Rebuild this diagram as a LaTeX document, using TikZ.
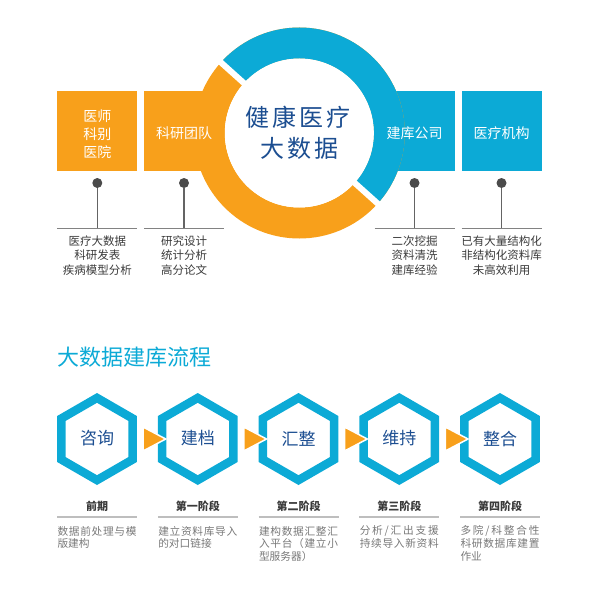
\documentclass[tikz,border=0pt]{standalone}
\usepackage{fontspec}
\newfontfamily\cjk{Noto Sans CJK SC}
\definecolor{orng}{RGB}{248,160,27}
\definecolor{blu}{RGB}{12,170,214}
\definecolor{dblu}{RGB}{28,78,145}
\definecolor{txt}{RGB}{58,58,58}
\definecolor{desc}{RGB}{120,120,120}
\definecolor{dotc}{RGB}{75,75,75}
\definecolor{stemc}{RGB}{100,100,100}
\definecolor{hlc}{RGB}{130,130,130}
\definecolor{sepc}{RGB}{190,190,190}
\def\spreadbox#1#2{\makebox[#1][s]{\spfirst#2\relax}}
\def\spfirst#1{#1\sprest}
\def\sprest#1{\ifx\relax#1\else\hfil#1\expandafter\sprest\fi}
\newcommand\hexring[1]{%
  \begin{scope}[shift={(#1,439)}]
    \fill[blu, even odd rule] (30:46) -- (90:46) -- (150:46) -- (210:46) -- (270:46) -- (330:46) -- cycle
      (30:36.2) -- (90:36.2) -- (150:36.2) -- (210:36.2) -- (270:36.2) -- (330:36.2) -- cycle;
  \end{scope}}
\newcommand\flowarrow[1]{%
  \begin{scope}[shift={(#1,439)}]
    \filldraw[fill=orng, draw=white, line width=1.5pt, line join=miter] (46,-12) -- (68.75,0) -- (46,12) -- cycle;
  \end{scope}}
\tikzset{
  every node/.style={inner sep=0pt, outer sep=0pt},
  boxo/.style={fill=orng, minimum width=80pt, minimum height=80pt},
  boxb/.style={fill=blu, minimum width=80pt, minimum height=80pt},
  boxtext/.style={text=white, align=center, font=\cjk\fontsize{14}{18}\selectfont},
  dotn/.style={circle, fill=dotc, minimum size=10pt},
  stem/.style={draw=stemc, line width=1.1pt},
  hline/.style={draw=hlc, line width=1pt},
  subtext/.style={text=txt, align=center, font=\cjk\fontsize{11.5}{14.5}\selectfont},
  centertext/.style={text=dblu, font=\cjk\fontsize{24}{28}\selectfont},
  titletext/.style={text=blu, anchor=west, font=\cjk\fontsize{22}{26}\selectfont},
  hextext/.style={text=dblu, font=\cjk\fontsize{17}{20}\selectfont},
  stagetext/.style={text=txt, font=\cjk\bfseries\fontsize{11}{13}\selectfont},
  sepline/.style={draw=sepc, line width=2pt},
  desctext/.style={text=desc, anchor=west, font=\cjk\fontsize{10.7}{13}\selectfont},
}
\begin{document}
\begin{tikzpicture}[x=1pt,y=-1pt]
\useasboundingbox (0,0) rectangle (596,596);
% boxes
\node[boxo] (b1) at (97.3,131) {};
\node[boxo] (b2) at (184,131) {};
\node[boxb] (b3) at (414.5,131) {};
\node[boxb] (b4) at (501.5,131) {};
% ring
\coordinate (rc) at (299.3,133);
\fill[orng, even odd rule] (rc) circle (105.5) (rc) circle (74.5);
\begin{scope}
  \clip (150.7,-0.8) -- (284.5,-149.4) -- (581.7,118.2) -- (447.9,266.8) -- cycle;
  \fill[blu, even odd rule] (rc) circle (105.5) (rc) circle (74.5);
\end{scope}
\fill[white] (rc) circle (74.5);
\coordinate (g1a) at (248.8,87.5);
\coordinate (g1b) at (216.1,58.1);
\coordinate (g2a) at (349.8,178.5);
\coordinate (g2b) at (382.5,207.9);
\draw[white, line width=6pt] (g1a) -- (g1b);
\draw[white, line width=6pt] (g2a) -- (g2b);
% center text
\node[centertext] (ct1) at (297.5,117) {\spreadbox{105pt}{健康医疗}};
\node[centertext] (ct2) at (299,148) {\spreadbox{78pt}{大数据}};
% box texts
\node[boxtext] (t1) at (97.3,134) {医师\\科别\\医院};
\node[boxtext] (t2) at (184,133.3) {科研团队};
\node[boxtext] (t3) at (414.5,133.3) {建库公司};
\node[boxtext] (t4) at (501.5,133.3) {医疗机构};
% dots, stems, lines
\foreach \n/\x in {1/97.3, 2/184, 3/414.5, 4/501.5}{
  \node[dotn] (d\n) at (\x,183) {};
  \coordinate (s\n) at (\x,228);
  \coordinate (ha\n) at (\x-40,228);
  \coordinate (hb\n) at (\x+40,228);
  \draw[stem] (d\n) -- (s\n);
  \draw[hline] (ha\n) -- (hb\n);
}
\node[subtext] (u1) at (97.3,255.5) {医疗大数据\\科研发表\\疾病模型分析};
\node[subtext] (u2) at (184,255.5) {研究设计\\统计分析\\高分论文};
\node[subtext] (u3) at (414.5,255.5) {二次挖掘\\资料清洗\\建库经验};
\node[subtext] (u4) at (501.5,255.5) {已有大量结构化\\非结构化资料库\\未高效利用};
% title
\node[titletext] (title) at (57.5,357) {大数据建库流程};
% hexagons
\hexring{97}
\hexring{197.75}
\hexring{298.5}
\hexring{399.25}
\hexring{500}
\flowarrow{97}
\flowarrow{197.75}
\flowarrow{298.5}
\flowarrow{399.25}
\node[hextext] (x1) at (97,438.5) {咨询};
\node[hextext] (x2) at (197.75,438.5) {建档};
\node[hextext] (x3) at (298.5,438.5) {汇整};
\node[hextext] (x4) at (399.25,438.5) {维持};
\node[hextext] (x5) at (500,438.5) {整合};
% stage labels and separators
\node[stagetext] (l1) at (97,506) {前期};
\node[stagetext] (l2) at (197.75,506) {第一阶段};
\node[stagetext] (l3) at (298.5,506) {第二阶段};
\node[stagetext] (l4) at (399.25,506) {第三阶段};
\node[stagetext] (l5) at (500,506) {第四阶段};
\foreach \n/\x in {1/97, 2/197.75, 3/298.5, 4/399.25, 5/500}{
  \coordinate (pa\n) at (\x-40,517);
  \coordinate (pb\n) at (\x+40,517);
  \draw[sepline] (pa\n) -- (pb\n);
}
% descriptions
\node[desctext] (e11) at (57.5,531) {\spreadbox{79pt}{数据前处理与模}};
\node[desctext] (e12) at (57.5,543.5) {版建构};
\node[desctext] (e21) at (158.25,531) {\spreadbox{79pt}{建立资料库导入}};
\node[desctext] (e22) at (158.25,543.5) {的对口链接};
\node[desctext] (e31) at (259,531) {\spreadbox{79pt}{建构数据汇整汇}};
\node[desctext] (e32) at (259,543.5) {\spreadbox{79pt}{入平台（建立小}};
\node[desctext] (e33) at (259,556) {型服务器）};
\node[desctext] (e41) at (359.75,531) {\spreadbox{79pt}{分析/汇出支援}};
\node[desctext] (e42) at (359.75,543.5) {\spreadbox{79pt}{持续导入新资料}};
\node[desctext] (e51) at (460.5,531) {\spreadbox{79pt}{多院/科整合性}};
\node[desctext] (e52) at (460.5,543.5) {\spreadbox{79pt}{科研数据库建置}};
\node[desctext] (e53) at (460.5,556) {作业};
\end{tikzpicture}
\end{document}
